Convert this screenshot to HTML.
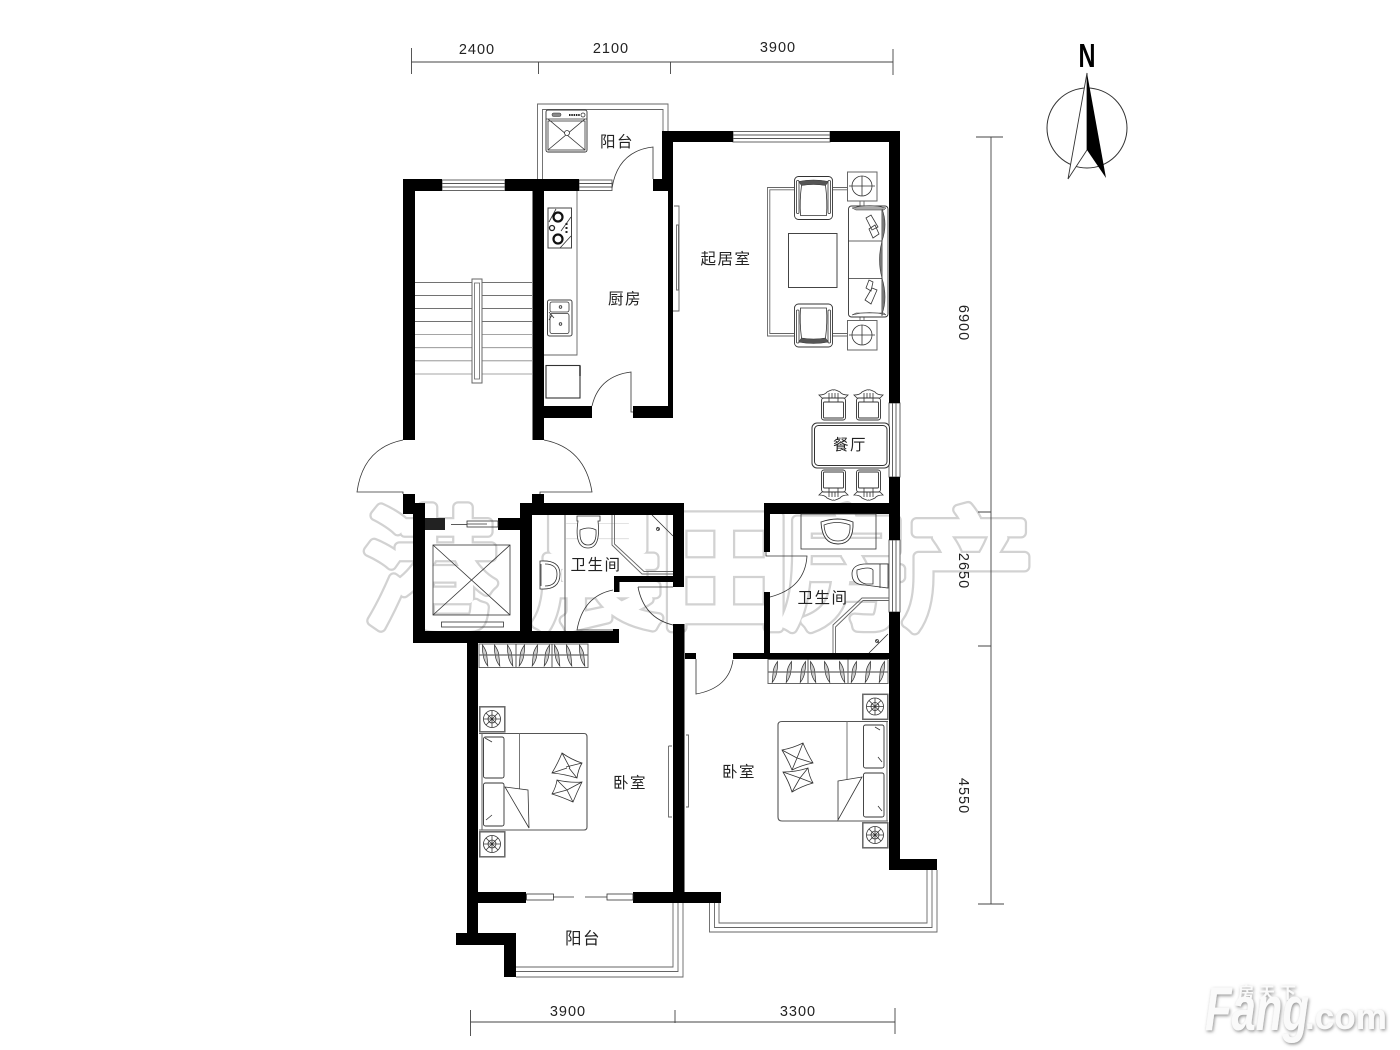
<!DOCTYPE html>
<html><head><meta charset="utf-8"><style>
html,body{margin:0;padding:0;background:#fff;width:1400px;height:1050px;overflow:hidden}
svg{display:block}
.t{font-family:"Liberation Sans","Noto Sans CJK SC",sans-serif;font-size:15.5px;fill:#222;text-anchor:middle;letter-spacing:1.5px}
.d{font-family:"Liberation Sans",sans-serif;font-size:14.5px;fill:#222;text-anchor:middle;letter-spacing:1px}
.l{fill:none;stroke:#333;stroke-width:.8}
.g{fill:none;stroke:#666;stroke-width:.9}
</style></head><body>
<svg width="1400" height="1050" viewBox="0 0 1400 1050" xmlns="http://www.w3.org/2000/svg">
<defs>
<g id="night"><rect x="0.8" y="0.8" width="25" height="25" fill="#fff" stroke="#666" stroke-width="1.5"/><circle cx="13" cy="13" r="8.5" class="l" stroke-width="1"/><circle cx="13" cy="13" r="4" class="l"/><path d="M13 4.5V21.5M4.5 13H21.5M7 7L19 19M19 7L7 19" class="l" stroke-width=".6"/></g>
<g id="arm"><rect x="0" y="0" width="38" height="43" rx="4" fill="#fff" stroke="#333" stroke-width=".9"/><rect x="2" y="4" width="2.5" height="33" rx="1" class="l"/><rect x="33.5" y="4" width="2.5" height="33" rx="1" class="l"/><path d="M4 5Q19 2 34 5L31 9Q19 7 7 9Z" fill="#555" stroke="#333" stroke-width=".5"/><path d="M7 9Q5 24 6 39H32Q33 24 31 9" class="l"/></g>
<g id="din"><path d="M0 5Q6 5 8 2Q14 -1 14.5 0Q15 -1 21 2Q23 5 29 5L26 8H3Z" fill="#fff" stroke="#333" stroke-width=".8"/><rect x="2.500" y="8" width="24" height="22" rx="2.500" fill="#fff" stroke="#333" stroke-width=".9"/><rect x="4.500" y="12" width="20" height="16" rx="1" fill="#fff" stroke="#333" stroke-width=".9"/><path d="M10 3V12M19 3V12M13 3V8M16 3V8" class="l"/></g>
<g id="hd"><path d="M-2.500 -10.500Q2 -4 1.800 0Q2.500 5 2.800 10.500Q-1.500 5 -1.600 0Q-3 -5 -2.500 -10.500Z" fill="#ccc" stroke="#333" stroke-width=".7"/></g>
<g id="hs"><path d="M2.500 -10.500Q-2 -4 -1.800 0Q-2.500 5 -2.800 10.500Q1.500 5 1.600 0Q3 -5 2.500 -10.500Z" fill="#ccc" stroke="#333" stroke-width=".7"/></g>
</defs>

<!-- watermark behind plan -->
<g font-family="Liberation Sans,Noto Sans CJK SC,sans-serif" font-size="132" text-anchor="middle" stroke-linejoin="round">
<g fill="#d2d2d2" stroke="#d2d2d2" stroke-width="12">
<text x="430" y="618">港</text><text x="597" y="618">晨</text><text x="725" y="618">田</text><text x="845" y="618">房</text><text x="968" y="618">产</text>
</g>
<g fill="#fff" stroke="#fff" stroke-width="7.500">
<text x="430" y="618">港</text><text x="597" y="618">晨</text><text x="725" y="618">田</text><text x="845" y="618">房</text><text x="968" y="618">产</text>
</g>
</g>

<!-- dimensions -->
<g stroke="#444" stroke-width=".9" fill="none">
<path d="M411.500 62H893M411.500 48V74M538.500 62V74M670.500 62V74M893 49V75"/>
<path d="M991 137V904M976 137H1003M978 512H991M978 646H991M978 904H1004"/>
<path d="M470.500 1022H895M470.500 1010V1036M675 1010V1023M895 1008V1034"/>
</g>
<text class="d" x="477" y="54">2400</text><text class="d" x="611" y="53">2100</text><text class="d" x="778" y="52">3900</text>
<text class="d" x="568" y="1016">3900</text><text class="d" x="798" y="1016">3300</text>
<text class="d" transform="translate(959,323) rotate(90)">6900</text>
<text class="d" transform="translate(959,571) rotate(90)">2650</text>
<text class="d" transform="translate(959,796) rotate(90)">4550</text>

<!-- compass -->
<circle cx="1087" cy="128" r="40" fill="#fff" stroke="#333" stroke-width="1"/>
<path d="M1087 73L1068 179L1087 150Z" fill="#fff" stroke="#333" stroke-width=".9"/>
<path d="M1087 73L1106 178L1087 150Z" fill="#000"/>
<text x="1087" y="67" font-family="Liberation Sans" font-weight="bold" font-size="33" text-anchor="middle" textLength="17" lengthAdjust="spacingAndGlyphs" fill="#000">N</text>

<!-- top balcony -->
<g class="g">
<path d="M537.500 179V104H668V131"/><path d="M542.500 179V109.500H663V131"/>
</g>
<rect x="546" y="110" width="41" height="42" rx="2" fill="#fff" stroke="#333" stroke-width=".9"/>
<path d="M546 119H587M548 119L585 150M585 119L548 150" class="l"/>
<rect x="548" y="121" width="37" height="29" class="l"/>
<circle cx="567" cy="133" r="2.500" fill="#fff" stroke="#333" stroke-width=".8"/>
<rect x="552" y="113" width="9" height="3.500" rx="1.500" fill="#888" stroke="#333" stroke-width=".5"/>
<path d="M569 115H580" stroke="#222" stroke-width="2" stroke-dasharray="1.500 .8"/>
<circle cx="583" cy="115" r="2" class="l"/>

<!-- windows -->
<g fill="#fff" stroke="#555" stroke-width=".9">
<rect x="442" y="180" width="63" height="10.500"/><path d="M442 183.500H505M442 187H505"/>
<rect x="579" y="180" width="33" height="10.500"/><path d="M579 183.500H612M579 187H612"/>
<rect x="733" y="131.500" width="97" height="10.500"/><path d="M733 135H830M733 138.500H830"/>
<rect x="889" y="403" width="11" height="74"/><path d="M892.500 403V477M896 403V477"/>
<rect x="889" y="540" width="11" height="72"/><path d="M892.500 540V612M896 540V612"/>
</g>

<!-- balcony rails -->
<g class="g" stroke-width="1">
<path d="M516 967H673V903"/><path d="M516 971.500H678V903"/><path d="M516 977H683V903"/>
<path d="M719 903V923H927V870"/><path d="M714.500 903V927.500H932V870"/><path d="M709.500 903V932H937V870"/>
</g>

<!-- stairs -->
<g stroke="#444" stroke-width=".8"><path d="M415 282.500H532M415 295.500H532M415 308.500H532M415 321.500H532"/><path stroke="#888" d="M415 334.500H532M415 347.700H532M415 360.800H532M415 374H532"/></g>
<rect x="472" y="279" width="10" height="104" fill="#fff" stroke="#666"/><rect x="474.500" y="283" width="5" height="96" fill="#fff" stroke="#666" stroke-width=".8"/>

<!-- walls -->
<g fill="#000">
<rect x="403" y="179" width="39" height="12"/><rect x="505" y="179" width="74" height="12"/>
<rect x="403" y="179" width="12" height="261"/><rect x="532.500" y="179" width="11.500" height="261"/>
<rect x="544" y="406" width="48" height="12"/><rect x="633" y="406" width="40" height="12"/>
<rect x="668" y="189" width="5" height="229"/><rect x="662" y="131" width="11" height="60"/><rect x="653" y="179" width="20" height="12"/>
<rect x="662" y="131" width="71" height="11"/><rect x="830" y="131" width="70" height="11"/>
<rect x="889" y="131" width="11" height="272"/><rect x="889" y="477" width="11" height="63"/><rect x="889" y="612" width="11" height="258"/>
<rect x="889" y="859" width="48" height="11"/>
<rect x="764" y="503" width="136" height="11"/><rect x="764" y="503" width="6" height="49"/><rect x="764" y="592" width="6" height="65"/>
<rect x="733" y="653" width="156" height="6"/><rect x="685" y="653" width="11" height="6"/>
<rect x="673" y="624" width="11.500" height="279"/><rect x="673" y="503" width="11" height="84"/>
<rect x="520" y="503" width="164" height="12"/><rect x="520" y="503" width="12" height="140"/>
<rect x="413" y="631" width="206" height="12"/><rect x="613" y="629" width="6" height="14"/>
<rect x="614" y="576" width="59" height="6"/><rect x="614" y="576" width="5.500" height="16"/>
<rect x="413" y="503" width="12" height="140"/><rect x="403" y="494" width="12" height="20"/><rect x="403" y="503" width="22" height="11"/>
<rect x="425" y="518" width="20" height="12" fill="#222"/><rect x="498" y="518" width="22" height="12"/>
<rect x="532" y="494" width="12" height="10"/>
<rect x="467" y="643" width="11" height="290"/>
<rect x="478" y="892" width="48" height="11"/><rect x="633" y="892" width="88" height="11"/>
<rect x="456" y="933" width="60" height="12"/><rect x="504" y="933" width="12" height="44"/>
</g>

<!-- doors -->
<g class="l" stroke-width=".9">
<path d="M612 188Q618 151 653 147V179"/>
<path d="M592 406Q599 376 631 372V412H633"/>
<path d="M403 440Q363 448 357 492H403V494"/><path d="M544 440Q585 448 592 492H540V494"/>
<path d="M613 590Q583 596 577 630H613"/>
<path d="M638 587Q644 618 673 625M638 587H673"/>
<path d="M766 552V556H807Q805 588 770 597"/>
<path d="M696 659V694Q729 688 733 660"/>
<path d="M451 524.500H467"/><rect x="467" y="521" width="31" height="6"/><path d="M467 524H487"/>
<path d="M553 897H574M585 897H607"/><rect x="526.500" y="894" width="27" height="6"/><rect x="607" y="894" width="26" height="6"/>
</g>

<!-- kitchen -->
<path d="M577 191V355H544" class="g"/>
<rect x="548" y="208" width="23.500" height="40" fill="#fff" stroke="#444"/>
<path d="M549 222L556 209M561 231L571 217M560 248L571 236" class="l"/>
<circle cx="558" cy="217" r="4.500" fill="#fff" stroke="#111" stroke-width="2.200"/><circle cx="558" cy="239" r="4.500" fill="#fff" stroke="#111" stroke-width="2.200"/><circle cx="552" cy="228" r="2.500" fill="#fff" stroke="#222" stroke-width="1.300"/>
<path d="M566.500 223V233" stroke="#222" stroke-width="2" stroke-dasharray="2 2"/>
<rect x="547.500" y="300" width="24.500" height="36" rx="2" fill="#fff" stroke="#444"/>
<rect x="550" y="302" width="19" height="10" rx="2" class="l"/><rect x="550" y="313.500" width="19" height="20" rx="2" class="l"/>
<circle cx="560.500" cy="307" r="1.300" class="l"/><circle cx="560.500" cy="324" r="1.300" class="l"/><path d="M549 312L554 318M549 320L552 315" class="l"/>
<rect x="546" y="365.500" width="34" height="32.500" fill="#fff" stroke="#333" stroke-width="1.100"/><path d="M580 366V376" stroke="#333" stroke-width="1.500"/>

<!-- living -->
<path d="M794 187.500H767.500V336H794M794 189.800H769.800V333.500H794M833 187.500H847M833 189.800H847M833 333.500H847M833 336H847" class="g"/>
<use href="#arm" x="794.500" y="176.500"/><use href="#arm" transform="translate(794.500,347) scale(1,-1)"/>
<rect x="847.500" y="172" width="29.500" height="29" fill="#fff" stroke="#666"/><rect x="847.500" y="320.500" width="29.500" height="29.500" fill="#fff" stroke="#666"/>
<circle cx="862" cy="186" r="10" class="l" stroke-width="1"/><path d="M862 176V196M849 186H875" class="l"/>
<circle cx="862" cy="335" r="10" class="l" stroke-width="1"/><path d="M862 325V345M849 335H875" class="l"/>
<path d="M860 201V206M864 201V206M860 316V320M864 316V320" class="g"/>
<rect x="788.500" y="233.500" width="48.500" height="54" fill="#fff" stroke="#444"/>
<rect x="848.500" y="206" width="39.500" height="111" rx="3" fill="#fff" stroke="#333" stroke-width=".9"/>
<path d="M848.500 241H882M848.500 278.500H882M882 208V316" class="l"/>
<path d="M852 208Q870 203 886 208L884 210H856Z" fill="#aaa" stroke="#333" stroke-width=".5"/><path d="M852 315Q870 310 886 315L884 313H856Z" fill="#aaa" stroke="#333" stroke-width=".5"/>
<path d="M882 209Q888 224 882 241Q877 260 882 278Q888 298 882 314" fill="#777" stroke="#333" stroke-width=".6"/>
<path d="M866 218L871 215L878 227L872 230ZM869 229L875 225L879 234L873 238ZM873 282L869 280L866 288L871 291ZM872 288L877 290L871 304L865 300Z" fill="#fff" stroke="#333" stroke-width=".8"/>
<!-- dining -->
<use href="#din" x="819" y="390"/><use href="#din" x="854" y="390"/>
<use href="#din" transform="translate(819,500) scale(1,-1)"/><use href="#din" transform="translate(854,500) scale(1,-1)"/>
<rect x="812" y="423" width="77.500" height="45" rx="5" fill="#fff" stroke="#333"/><rect x="814.500" y="425.500" width="72.500" height="40" rx="4" fill="#fff" stroke="#333"/>
<path d="M674 206H679V311H673M676.500 225H678.500V290H676.500Z" class="g"/>

<!-- elevator -->
<rect x="433" y="545" width="77" height="70" class="l"/><path d="M433 545L510 615M510 545L433 615" class="l"/>
<rect x="441.500" y="622" width="62" height="5" class="l"/>

<!-- bath 1 -->
<path d="M565 515V631" class="l"/>
<path d="M577 516H600V521H598Q601 548 588 548Q574 548 578 521H577Z" fill="#fff" stroke="#333" stroke-width=".8"/><path d="M580 530Q589 526 596 530Q597 545 588 545Q579 545 580 530Z" class="l"/>
<path d="M541 561Q560 560 560 574Q560 590 541 589H540V561Z" fill="#fff" stroke="#333" stroke-width=".8"/><path d="M541 564V586M545 564Q557 564 557 574Q557 586 545 586" class="l"/>
<path d="M612 515V545L642 574H673" class="g"/><path d="M614.500 515V544L644 571.500H673" class="g"/>
<path d="M652 515L673 536M657 527L659 530" class="l"/><circle cx="658" cy="529" r="1.500" class="l"/>

<!-- bath 2 -->
<rect x="801" y="514" width="75" height="35" class="l"/>
<path d="M821 522Q838 516 853 522Q854 544 838 544Q822 544 821 522Z" fill="#fff" stroke="#333" stroke-width=".9"/><path d="M824 525Q837 520 850 525Q851 541 838 541Q825 541 824 525Z" class="l"/>
<path d="M888 564H864Q852 565 852 574Q852 585 865 585L888 588Z" fill="#fff" stroke="#333" stroke-width=".8"/><path d="M857 570Q870 566 873 570V584H866Q856 582 857 570Z M880 564V588" class="l"/>
<path d="M889 598H862L833 625V653" class="g"/><path d="M889 600.500H863L835.500 627V653" class="g"/>
<path d="M869 653L888 634M876 640L879 643" class="l"/><circle cx="877" cy="641" r="1.500" class="l"/>

<!-- wardrobes -->
<rect x="479" y="644" width="109" height="23.500" fill="#fff" stroke="#666"/><path d="M516 644V667M552 644V667" class="l"/>
<g transform="translate(0,655.500)"><use href="#hd" x="485"/><use href="#hd" x="497"/><use href="#hd" x="510"/><use href="#hs" x="522"/><use href="#hs" x="535"/><use href="#hs" x="547"/><use href="#hd" x="557"/><use href="#hd" x="569"/><use href="#hd" x="582"/></g>
<path d="M479 655H588" stroke="#666" stroke-width="1.200"/>
<rect x="768" y="659.500" width="120" height="24" fill="#fff" stroke="#666"/><path d="M808 659V683M848 659V683" class="l"/>
<g transform="translate(0,672)"><use href="#hs" x="775"/><use href="#hs" x="789"/><use href="#hs" x="803"/><use href="#hd" x="813"/><use href="#hd" x="827"/><use href="#hd" x="842"/><use href="#hs" x="854"/><use href="#hs" x="868"/><use href="#hs" x="882"/></g>
<path d="M768 672H888" stroke="#666" stroke-width="1.200"/>

<!-- bed left -->
<use href="#night" x="479" y="706"/><use href="#night" x="479" y="831"/>
<path d="M479 733.500H584Q587 733.500 587 737V827Q587 830 584 830H479" fill="#fff" stroke="#555" stroke-width="1.100"/>
<path d="M519.500 733.500V790" stroke="#777"/>
<path d="M505 787L528 790L529 828Z" fill="#fff" stroke="#333" stroke-width=".8"/>
<rect x="483.500" y="737" width="20.500" height="41" rx="2" fill="#fff" stroke="#333" stroke-width=".9"/><rect x="483.500" y="783" width="20.500" height="43" rx="2" fill="#fff" stroke="#333" stroke-width=".9"/>
<path d="M482 733V830" stroke="#666"/><path d="M485 738L492 742M486 820L492 815" class="l"/>
<path d="M562 753Q572 760 582 763Q578 770 577 778Q564 774 552 773Q558 763 562 753ZM562 753L570 768M582 763L566 767M552 773L567 768M577 778L569 768" class="l"/>
<path d="M557 780Q570 783 582 782Q577 792 573 802Q562 797 552 794Q556 787 557 780ZM557 780L567 790M582 782L567 790M552 794L567 790M573 802L567 790" class="l"/>
<path d="M668.500 746H672M668.500 746V817H672M686 735H688.500V807H686" class="g"/>

<!-- bed right -->
<use href="#night" x="862" y="693.500"/><use href="#night" x="862" y="822"/>
<path d="M888 721.500H782Q778 721.500 778 725V817Q778 821 782 821H888" fill="#fff" stroke="#555" stroke-width="1.100"/>
<path d="M847 721.500V780" stroke="#777"/>
<path d="M838 781L862 777L838 820Z" fill="#fff" stroke="#333" stroke-width=".8"/>
<rect x="863.500" y="725" width="20.500" height="43" rx="2" fill="#fff" stroke="#333" stroke-width=".9"/><rect x="863.500" y="773" width="20.500" height="44" rx="2" fill="#fff" stroke="#333" stroke-width=".9"/>
<path d="M887 721V821" stroke="#666"/><path d="M880 730L875 727M882 762L878 757M882 811L878 806" class="l"/>
<path d="M782 750Q793 748 803 743Q807 753 813 763Q802 765 792 770Q788 760 782 750ZM782 750L797 758M803 743L797 758M813 763L797 758M792 770L797 758" class="l"/>
<path d="M783 772Q796 772 808 768Q809 776 813 783Q802 786 792 792Q789 782 783 772ZM783 772L800 778M808 768L800 778M813 783L800 778M792 792L800 778" class="l"/>

<!-- labels -->
<text class="t" x="617" y="147">阳台</text>
<text class="t" x="625" y="304">厨房</text>
<text class="t" x="726" y="264">起居室</text>
<text class="t" x="850" y="450">餐厅</text>
<text class="t" x="596" y="570">卫生间</text>
<text class="t" x="823" y="603">卫生间</text>
<text class="t" x="630" y="788">卧室</text>
<text class="t" x="739" y="777">卧室</text>
<text class="t" x="583" y="944" style="font-size:16.500px">阳台</text>

<!-- logo -->
<defs><filter id="sh" x="-10%" y="-10%" width="120%" height="130%"><feDropShadow dx="1" dy="1.500" stdDeviation="1.600" flood-color="#777" flood-opacity=".8"/></filter></defs>
<g filter="url(#sh)" fill="#fafafa" font-family="Liberation Sans,Noto Sans CJK SC,sans-serif">
<text x="1205" y="1030" font-size="62" font-weight="bold" font-style="italic" textLength="104" lengthAdjust="spacingAndGlyphs">Fang</text>
<text x="1305" y="1029" font-size="36" font-weight="bold" textLength="82" lengthAdjust="spacingAndGlyphs">.com</text>
<text x="1238" y="998" font-size="16" font-weight="bold" textLength="58" lengthAdjust="spacing">房天下</text>
</g>
</svg>
</body></html>
